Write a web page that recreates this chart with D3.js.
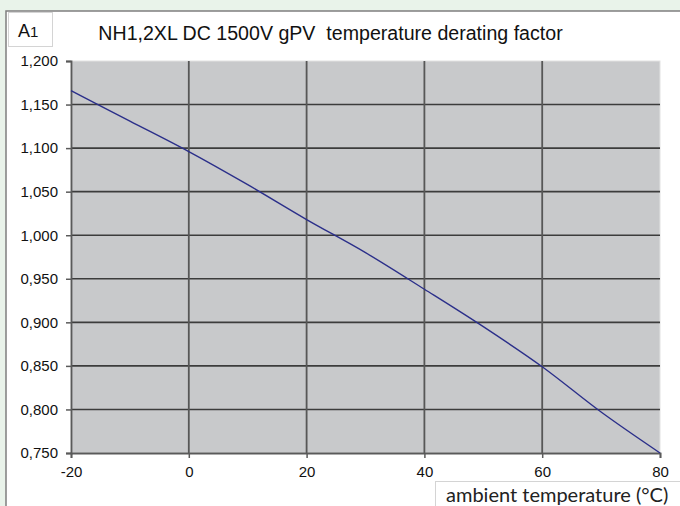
<!DOCTYPE html>
<html><head><meta charset="utf-8">
<script src="https://cdn.jsdelivr.net/npm/d3@7"></script>
<style>html,body{margin:0;padding:0;background:#e9f3ea;}svg{display:block;}</style>
</head><body>
<script>
const temps = [-20, -10, 0, 10, 20, 30, 40, 50, 60, 70, 80];
const factors = [1.166, 1.131, 1.096, 1.058, 1.018, 0.980, 0.938, 0.895, 0.849, 0.797, 0.750];
const yTicks = [0.75, 0.80, 0.85, 0.90, 0.95, 1.00, 1.05, 1.10, 1.15, 1.20];
const xTicks = [-20, 0, 20, 40, 60, 80];
const title = "NH1,2XL DC 1500V gPV  temperature derating factor";
const xLabel = "ambient temperature (°C)";

const W = 680, H = 506;
const svg = d3.select("body").append("svg").attr("width", W).attr("height", H);
svg.append("rect").attr("width", W).attr("height", H).attr("fill", "#e9f3ea");
// white panel
svg.append("rect").attr("x", 6).attr("y", 11).attr("width", W).attr("height", H)
  .attr("fill", "#ffffff").attr("stroke", "#7f7f7f").attr("stroke-width", 1.5);

// A1 box
svg.append("rect").attr("x", 8.5).attr("y", 12.5).attr("width", 44).attr("height", 34)
  .attr("fill", "#fff").attr("stroke", "#d4d4d4").attr("stroke-width", 1);
const a1 = svg.append("text").attr("x", 18).attr("y", 37)
  .attr("font-family", "Liberation Sans, Arial, sans-serif").attr("font-size", 18).attr("fill", "#111");
a1.append("tspan").text("A");
a1.append("tspan").attr("font-size", 15).text("1");

svg.append("text").attr("x", 330.5).attr("y", 40).attr("text-anchor", "middle")
  .attr("font-family", "Liberation Sans, Arial, sans-serif").attr("font-size", 19.6).attr("fill", "#111")
  .style("white-space", "pre").attr("xml:space", "preserve").text(title);

const m = {l: 71, r: 660, t: 61, b: 453};
const x = d3.scaleLinear().domain([-20, 80]).range([m.l, m.r]);
const y = d3.scaleLinear().domain([0.75, 1.20]).range([m.b, m.t]);

svg.append("rect").attr("x", m.l).attr("y", m.t).attr("width", m.r - m.l).attr("height", m.b - m.t)
  .attr("fill", "#c8c9cb").attr("stroke", "#e2e2e2").attr("stroke-width", 1);

// grid
const g = svg.append("g");
g.selectAll("line.h").data(yTicks.filter(d => d > 0.75 && d < 1.2)).enter().append("line")
  .attr("x1", m.l).attr("x2", m.r).attr("y1", d => y(d)).attr("y2", d => y(d))
  .attr("stroke", "#3c3c3c").attr("stroke-width", 1.6);
g.selectAll("line.v").data(xTicks.filter(d => d > -20 && d < 80)).enter().append("line")
  .attr("y1", m.t).attr("y2", m.b).attr("x1", d => x(d)).attr("x2", d => x(d))
  .attr("stroke", "#575757").attr("stroke-width", 1.8);

// axes
const fmt = d => d3.format(".3f")(d).replace(".", ",");
const yAxis = d3.axisLeft(y).tickValues(yTicks).tickFormat(fmt).tickSize(5).tickPadding(8);
const ya = svg.append("g").attr("transform", `translate(${m.l},0)`).call(yAxis);
const xAxis = d3.axisBottom(x).tickValues(xTicks).tickFormat(d => String(d)).tickSize(5).tickPadding(8);
const xa = svg.append("g").attr("transform", `translate(0,${m.b})`).call(xAxis);
[ya, xa].forEach(a => {
  a.select(".domain").attr("stroke", "#5a5a5a").attr("stroke-width", 1.8);
  a.selectAll(".tick line").attr("stroke", "#5a5a5a").attr("stroke-width", 1.5);
  a.selectAll("text").attr("font-family", "Liberation Sans, Arial, sans-serif")
    .attr("font-size", 15).attr("fill", "#111");
});

// line
svg.append("path").datum(temps.map((t, i) => [t, factors[i]]))
  .attr("fill", "none").attr("stroke", "#2b2f8a").attr("stroke-width", 1.4)
  .attr("d", d3.line().x(d => x(d[0])).y(d => y(d[1])).curve(d3.curveMonotoneX));

// x label box
svg.append("rect").attr("x", 435.5).attr("y", 481.5).attr("width", 260).attr("height", 40)
  .attr("fill", "#fff").attr("stroke", "#d4d4d4").attr("stroke-width", 1);
svg.append("text").attr("x", 446).attr("y", 502)
  .attr("font-family", "Lato, Open Sans, sans-serif").attr("font-size", 20).attr("fill", "#222")
  .text(xLabel);
</script>
</body></html>
